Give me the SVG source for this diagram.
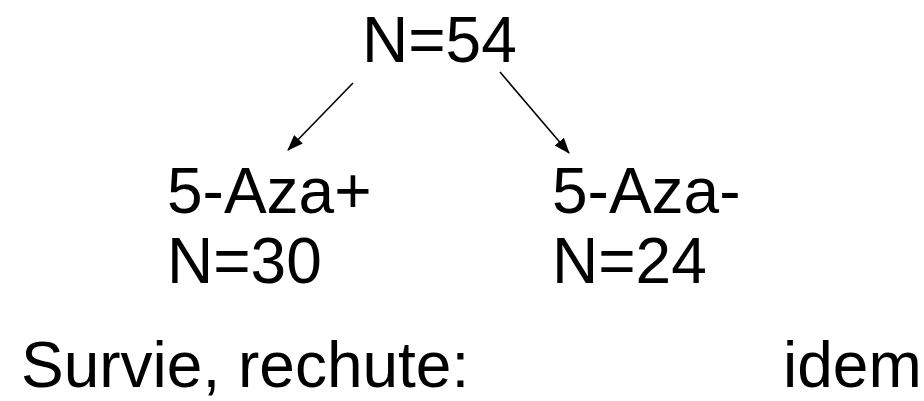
<svg xmlns="http://www.w3.org/2000/svg" width="924" height="401" viewBox="0 0 924 401">
<style>
text{font-family:"Liberation Sans",Arial,sans-serif;font-size:64px;fill:#000}
.c{stroke:#000;stroke-width:1.6;fill:none}
</style>
<defs>
<marker id="ah" viewBox="0 0 16 12" refX="15" refY="6" markerWidth="16" markerHeight="12" orient="auto" markerUnits="userSpaceOnUse">
<path d="M0,0 L16,6 L0,12 z" fill="#000"/>
</marker>
</defs>
<rect width="924" height="401" fill="#fff"/>
<g id="root"><text x="362" y="62">N=54</text></g>
<g id="left"><text x="167" y="213">5-Aza+</text><text x="167" y="283">N=30</text></g>
<g id="right"><text x="552" y="213">5-Aza-</text><text x="552" y="283">N=24</text></g>
<g id="outcome"><text x="21" y="387">Survie, rechute:</text><text x="783" y="387">idem</text></g>
<g id="connectors">
<line class="c" x1="353" y1="83" x2="288" y2="150" marker-end="url(#ah)"/>
<line class="c" x1="500" y1="72" x2="569" y2="153" marker-end="url(#ah)"/>
</g>
</svg>
